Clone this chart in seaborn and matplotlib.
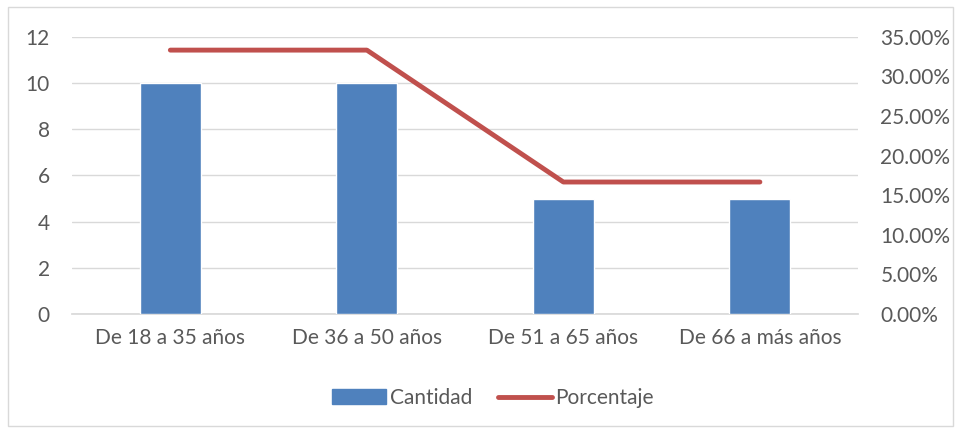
import matplotlib
matplotlib.use("Agg")
import matplotlib.pyplot as plt
import matplotlib.patches as mpatches
from matplotlib.lines import Line2D
from matplotlib.ticker import FuncFormatter
import pandas as pd
import seaborn as sns

# ── Data ────────────────────────────────────────────────────────────────────
categories = ["De 18 a 35 años", "De 36 a 50 años", "De 51 a 65 años", "De 66 a más años"]
cantidad = [10, 10, 5, 5]
porcentaje = [0.3333, 0.3333, 0.1667, 0.1667]

df = pd.DataFrame({"categoria": categories, "cantidad": cantidad, "porcentaje": porcentaje})

sns.set_theme(style="white")
plt.rcParams["font.family"] = ["Lato", "DejaVu Sans"]

TEXT = "#595959"
BLUE = "#4F81BD"
RED = "#C0504D"
GRID = "#D9D9D9"
FS = 15

fig = plt.figure(figsize=(9.61, 4.34), dpi=100)
ax = fig.add_axes([0.075, 0.2765, 0.818, 0.6385])

sns.barplot(data=df, x="categoria", y="cantidad", color=BLUE, width=0.31,
            saturation=1, ax=ax, zorder=3)
ax.set_ylim(0, 12)
ax.set_yticks(range(0, 13, 2))
ax.set_xlim(-0.5, 3.5)
ax.yaxis.grid(True, color=GRID, lw=1, zorder=0)
ax.set_xlabel("")
ax.set_ylabel("")
for s in ax.spines.values():
    s.set_visible(False)
ax.spines["bottom"].set_visible(True)
ax.spines["bottom"].set_color(GRID)
ax.tick_params(axis="both", length=0, labelsize=FS, colors=TEXT)
ax.tick_params(axis="x", pad=10)
ax.tick_params(axis="y", pad=16)

ax2 = ax.twinx()
sns.lineplot(x=list(range(len(categories))), y=df["porcentaje"], color=RED, lw=3.5,
             solid_capstyle="round", ax=ax2)
ax2.set_ylim(0, 0.35)
ax2.set_yticks([i * 0.05 for i in range(8)])
ax2.yaxis.set_major_formatter(FuncFormatter(lambda v, _: f"{v * 100:.2f}%"))
ax2.set_ylabel("")
for s in ax2.spines.values():
    s.set_visible(False)
ax2.tick_params(axis="y", length=0, labelsize=FS, colors=TEXT, pad=16)

handles = [mpatches.Patch(color=BLUE, label="Cantidad"),
           Line2D([0], [0], color=RED, lw=3.5, solid_capstyle="round", label="Porcentaje")]
fig.legend(handles=handles, loc="center", bbox_to_anchor=(0.513, 0.083), ncol=2,
           frameon=False, fontsize=FS, labelcolor=TEXT, handlelength=2.6,
           handletextpad=0.15, columnspacing=1.25)

fig.patches.append(mpatches.Rectangle((0.008, 0.018), 0.984, 0.965, transform=fig.transFigure,
                                      fill=False, edgecolor=GRID, lw=1))

fig.savefig("out.png", dpi=100)
